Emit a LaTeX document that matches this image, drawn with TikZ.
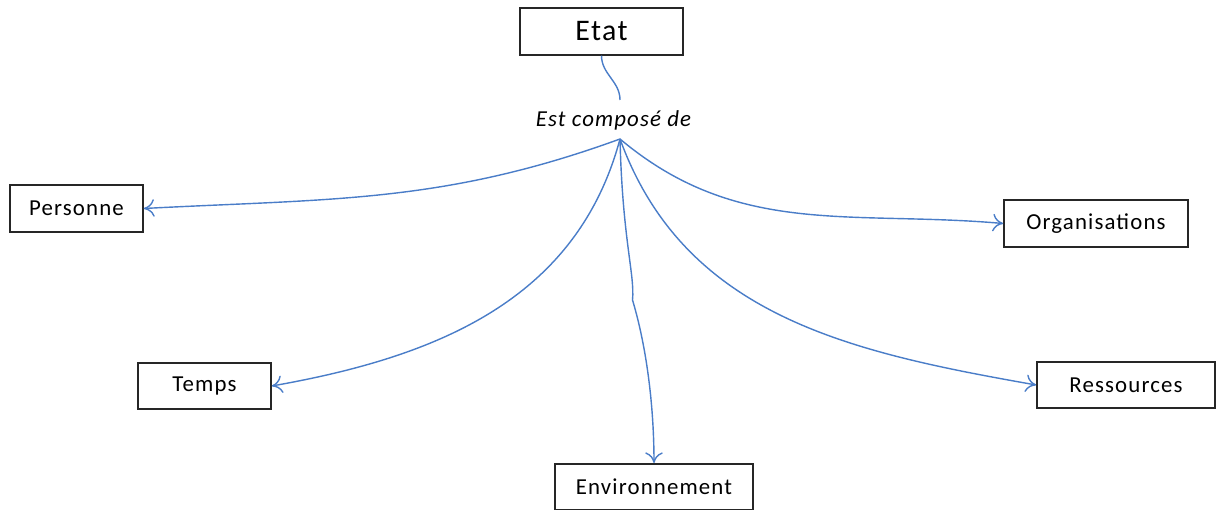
\documentclass[tikz,border=0pt]{standalone}
\usepackage{fontspec}
\setmainfont{Carlito}[LetterSpace=5]
\usepackage{xcolor}
\usetikzlibrary{arrows.meta}
\definecolor{linkblue}{RGB}{74,125,200}

\begin{document}
\begin{tikzpicture}
[auto=center,every node/.style={draw=black!85,line width=0.9pt,rectangle,minimum height=0.93cm,font=\fontsize{13}{15}\selectfont},
 link/.style={draw=linkblue,line width=0.8pt,-{To[length=6pt,width=10pt]}}]

  \useasboundingbox (0,0) rectangle (24.32,-10.2);

  \node[minimum width=3.26cm,font=\fontsize{17}{20}\selectfont] (etat) at (12.03,-0.63) {Etat};
  \node[draw=none,font=\fontsize{13}{15}\selectfont\itshape,minimum height=0pt] (compo) at (12.27,-2.4) {Est composé de};
  \coordinate (hub) at (12.4,-2.78);

  \node[minimum width=2.66cm] (pers) at (1.53,-4.17) {Personne};
  \node[minimum width=3.68cm] (orga) at (21.92,-4.47) {Organisations};
  \node[minimum width=2.66cm] (temps) at (4.09,-7.72) {Temps};
  \node[minimum width=3.56cm] (res) at (22.52,-7.70) {Ressources};
  \node[minimum width=3.96cm] (env) at (13.08,-9.74) {Environnement};

  \draw[linkblue,line width=0.8pt] (etat.south) to[out=-90,in=90] (12.4,-2.0);
  \foreach \to/\o/\i in {pers/-160/3, temps/-105/10}
    \draw[link] (hub) to[out=\o,in=\i] (\to.east);
  \foreach \to/\o/\i in {res/-70/170, orga/-40/175}
    \draw[link] (hub) to[out=\o,in=\i] (\to.west);
  \draw[link] (hub) .. controls (12.45,-4.8) and (12.7,-5.5) .. (12.65,-6.0)
    .. controls (12.95,-7.0) and (13.08,-8.2) .. (env.north);

\end{tikzpicture}
\end{document}
